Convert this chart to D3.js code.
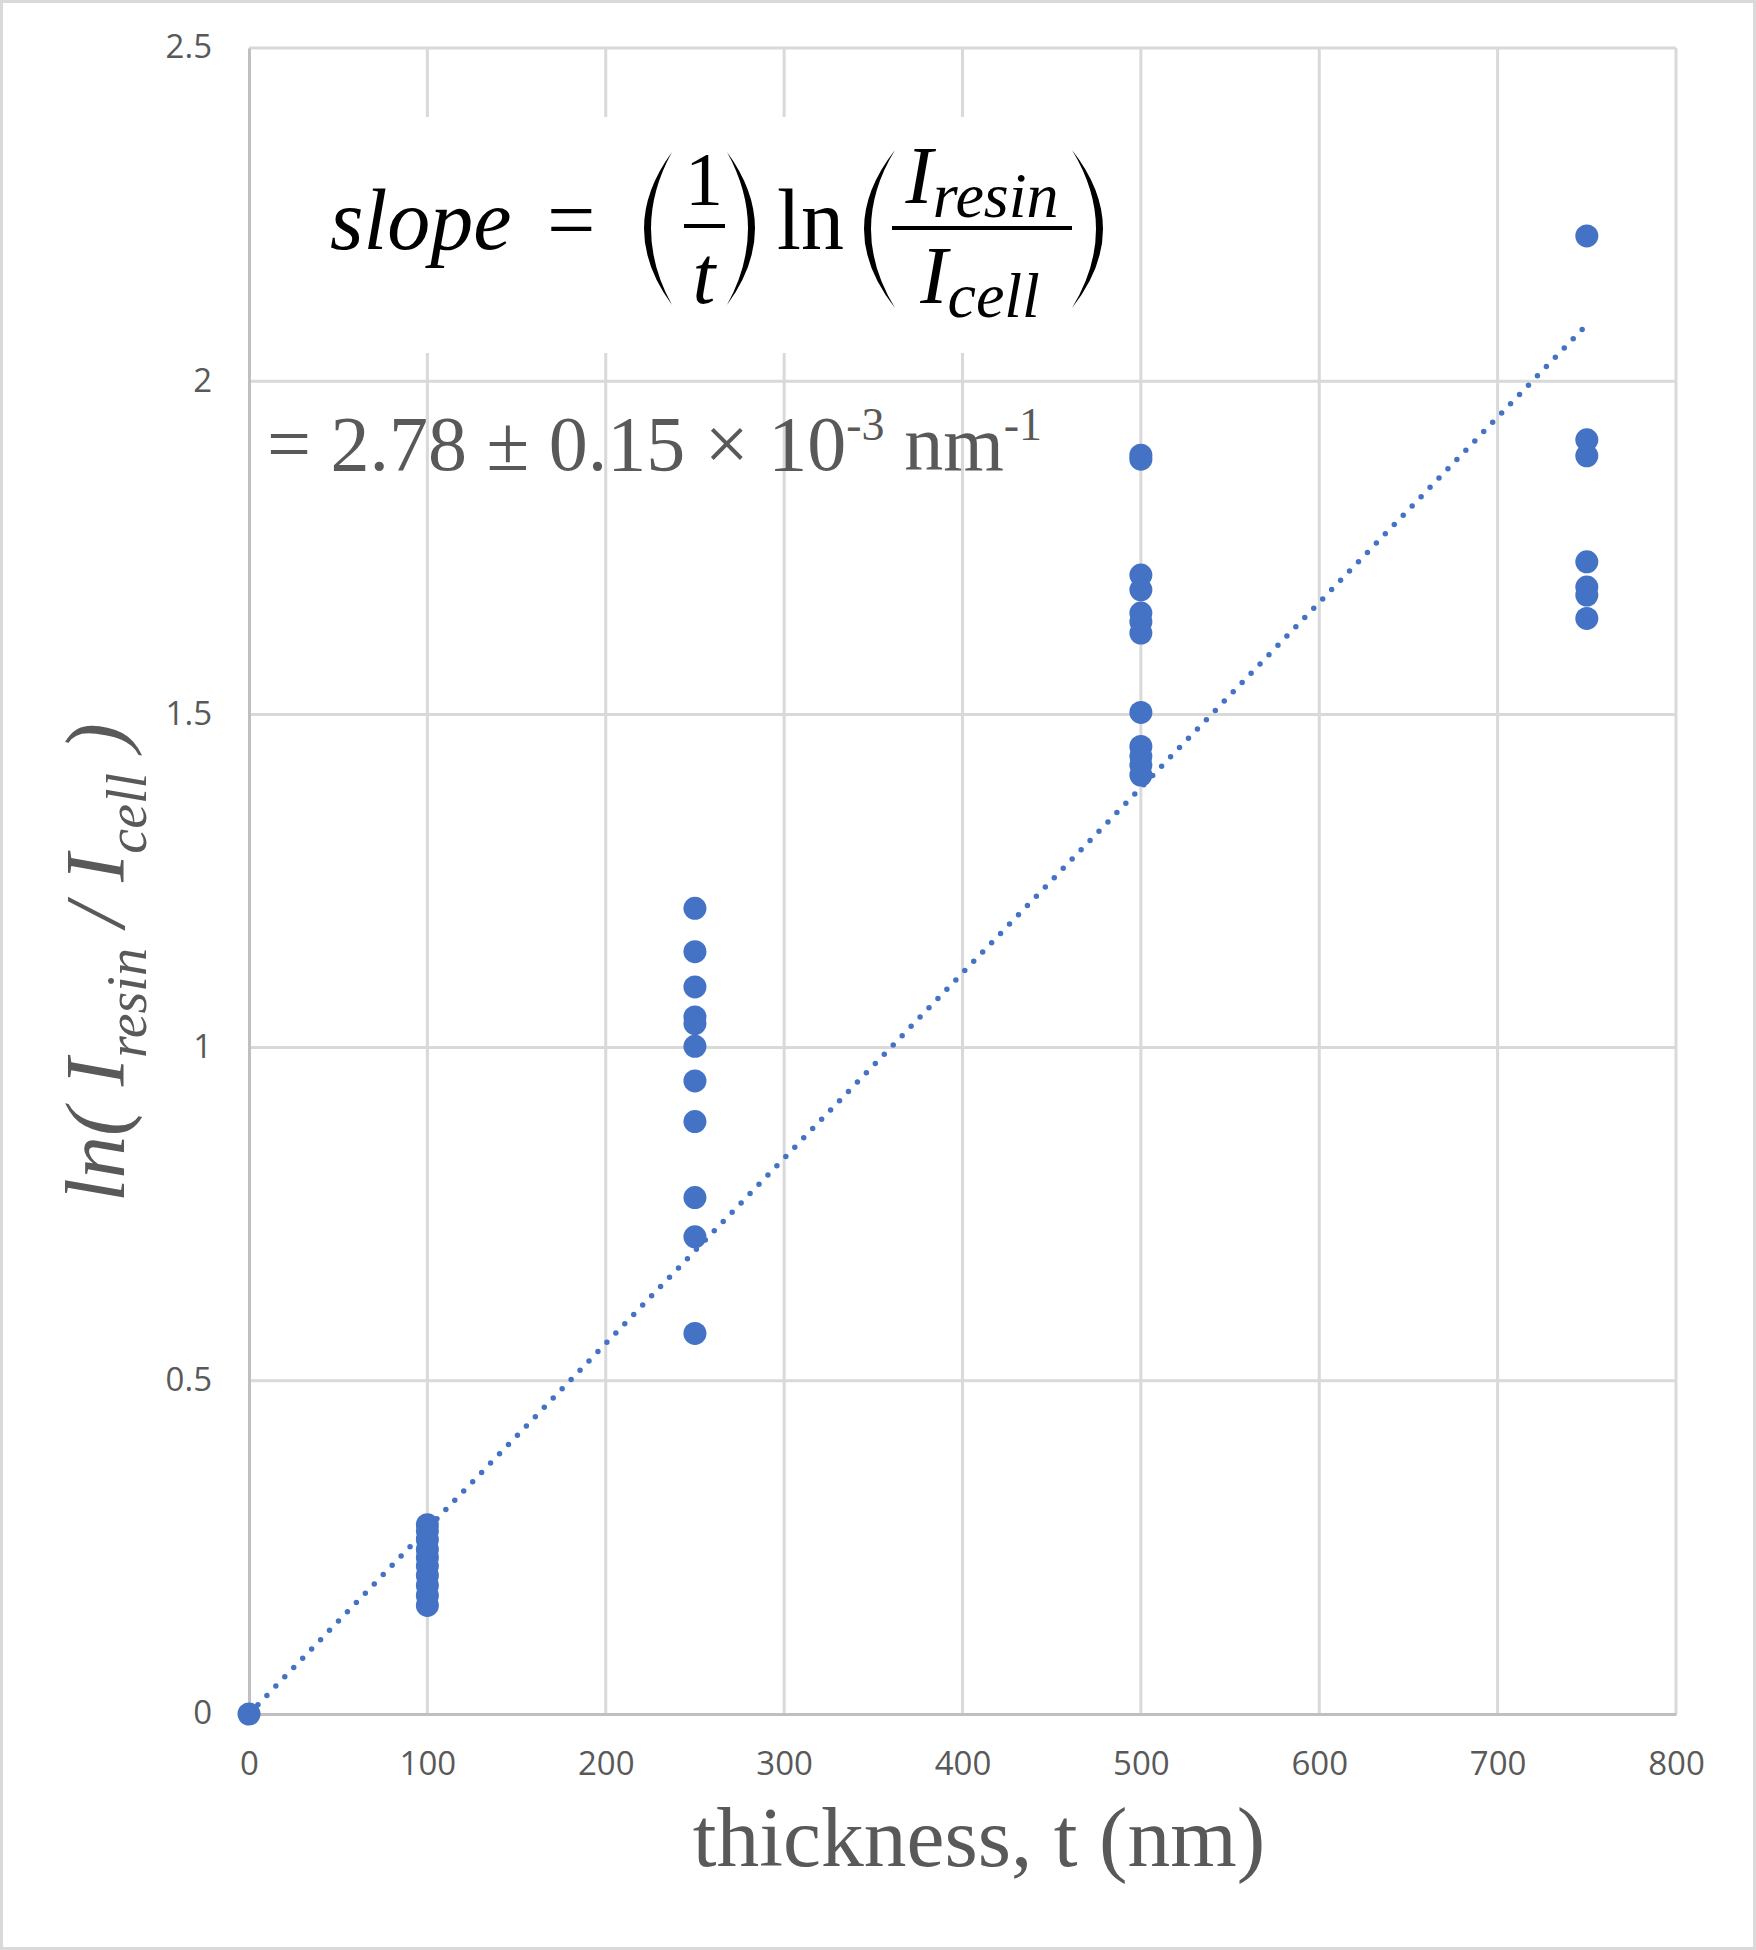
<!DOCTYPE html>
<html><head><meta charset="utf-8">
<script src="https://cdn.jsdelivr.net/npm/d3@7/dist/d3.min.js"></script>
<style>body{margin:0;background:#fff}svg{display:block}</style>
</head><body>
<svg id="chart" width="1756" height="1950"></svg>
<script>
// ---- data ----
const thicknessValues = [0, 100, 250, 500, 750];
const lnRatio0   = [0];
const lnRatio100 = [0.284, 0.275, 0.262, 0.247, 0.235, 0.222, 0.208, 0.193, 0.178, 0.163];
const lnRatio250 = [1.209, 1.144, 1.091, 1.046, 1.036, 1.002, 0.950, 0.889, 0.775, 0.716, 0.571];
const lnRatio500 = [1.889, 1.883, 1.709, 1.687, 1.652, 1.639, 1.622, 1.503, 1.452, 1.437, 1.424, 1.409];
const lnRatio750 = [2.218, 1.912, 1.888, 1.729, 1.691, 1.679, 1.644];
const trendSlope = 0.00278;
const trendRange = [0, 750];
const xTicks = [0, 100, 200, 300, 400, 500, 600, 700, 800];
const yTicks = [0, 0.5, 1, 1.5, 2, 2.5];

const groups = [lnRatio0, lnRatio100, lnRatio250, lnRatio500, lnRatio750];
const points = [];
groups.forEach((arr, i) => arr.forEach(v => points.push({t: thicknessValues[i], v})));

const svg = d3.select('#chart');
const W = 1756, H = 1950;
const x = d3.scaleLinear().domain([0, 800]).range([249, 1676]);
const y = d3.scaleLinear().domain([0, 2.5]).range([1714, 48]);

svg.append('rect').attr('width', W).attr('height', H).attr('fill', '#fff');
svg.append('rect').attr('x', 1.5).attr('y', 1.5).attr('width', W - 3).attr('height', H - 3)
  .attr('fill', 'none').attr('stroke', '#d9d9d9').attr('stroke-width', 3);

// gridlines
const grid = svg.append('g');
grid.selectAll('.gx').data(xTicks.filter(d => d > 0)).join('line')
  .attr('x1', d => x(d)).attr('x2', d => x(d)).attr('y1', y(0)).attr('y2', y(2.5))
  .attr('stroke', '#d9d9d9').attr('stroke-width', 3);
grid.selectAll('.gy').data(yTicks.filter(d => d > 0)).join('line')
  .attr('y1', d => y(d)).attr('y2', d => y(d)).attr('x1', x(0)).attr('x2', x(800))
  .attr('stroke', '#d9d9d9').attr('stroke-width', 3);

// axes
const xAxis = svg.append('g').attr('transform', `translate(0,${y(0)})`)
  .call(d3.axisBottom(x).tickValues(xTicks).tickSize(0).tickPadding(0).tickFormat(d3.format('d')));
xAxis.select('.domain').attr('stroke', '#bfbfbf').attr('stroke-width', 3);
xAxis.selectAll('text').attr('dy', null).attr('y', 61)
  .attr('font-family', 'Open Sans').attr('font-size', 33).attr('fill', '#595959');

const yAxis = svg.append('g').attr('transform', `translate(${x(0)},0)`)
  .call(d3.axisLeft(y).tickValues(yTicks).tickSize(0).tickPadding(0).tickFormat(d => d3.format('')(d)));
yAxis.select('.domain').attr('stroke', '#bfbfbf').attr('stroke-width', 3);
yAxis.selectAll('text').attr('x', -37).attr('dy', '0.3em')
  .attr('font-family', 'Open Sans').attr('font-size', 33).attr('fill', '#595959');

// formula box (opaque, covers gridlines)
const fx = svg.append('g');
fx.append('rect').attr('x', 300).attr('y', 117).attr('width', 820).attr('height', 236).attr('fill', '#fff');

// points
svg.append('g').selectAll('circle').data(points).join('circle')
  .attr('cx', d => x(d.t)).attr('cy', d => y(d.v)).attr('r', 11.5).attr('fill', '#4472c4');

// trendline
const trendData = trendRange.map(t => ({t, v: trendSlope * t}));
svg.append('path').datum(trendData)
  .attr('d', d3.line().x(d => x(d.t)).y(d => y(d.v)))
  .attr('stroke', '#4472c4').attr('stroke-width', 5.5).attr('fill', 'none')
  .attr('stroke-linecap', 'round').attr('stroke-dasharray', '0 12.9');

// formula
const serif = 'Liberation Serif';
function paren(x0, x1, y0, y1, left) {
  const ym = (y0 + y1) / 2, w = 7;
  let d;
  if (left) {
    d = `M${x1},${y0} Q${2 * x0 - x1},${ym} ${x1},${y1} Q${2 * (x0 + w) - x1},${ym} ${x1},${y0} Z`;
  } else {
    d = `M${x0},${y0} Q${2 * x1 - x0},${ym} ${x0},${y1} Q${2 * (x1 - w) - x0},${ym} ${x0},${y0} Z`;
  }
  fx.append('path').attr('d', d).attr('fill', '#000');
}
fx.append('text').attr('x', 330).attr('y', 249).attr('font-family', serif).attr('font-style', 'italic')
  .attr('font-size', 86).attr('fill', '#000').text('slope');
fx.append('text').attr('x', 547).attr('y', 249).attr('font-family', serif)
  .attr('font-size', 86).attr('fill', '#000').text('=');
paren(644, 672, 152, 305, true);
fx.append('text').attr('x', 704).attr('y', 205).attr('text-anchor', 'middle').attr('font-family', serif)
  .attr('font-size', 76).attr('fill', '#000').text('1');
fx.append('rect').attr('x', 684).attr('y', 224).attr('width', 41).attr('height', 4).attr('fill', '#000');
fx.append('text').attr('x', 704).attr('y', 303).attr('text-anchor', 'middle').attr('font-family', serif)
  .attr('font-style', 'italic').attr('font-size', 82).attr('fill', '#000').text('t');
paren(727, 755, 152, 305, false);
fx.append('text').attr('x', 777).attr('y', 249).attr('font-family', serif)
  .attr('font-size', 86).attr('fill', '#000').text('ln');
paren(864, 895, 150, 308, true);
const num = fx.append('text').attr('x', 982).attr('y', 203).attr('text-anchor', 'middle')
  .attr('font-family', serif).attr('font-style', 'italic').attr('font-size', 82).attr('fill', '#000');
num.append('tspan').text('I');
num.append('tspan').attr('font-size', 64).attr('dy', 14).text('resin');
fx.append('rect').attr('x', 892).attr('y', 226).attr('width', 180).attr('height', 4).attr('fill', '#000');
const den = fx.append('text').attr('x', 980).attr('y', 303).attr('text-anchor', 'middle')
  .attr('font-family', serif).attr('font-style', 'italic').attr('font-size', 82).attr('fill', '#000');
den.append('tspan').text('I');
den.append('tspan').attr('font-size', 64).attr('dy', 14).text('cell');
paren(1072, 1103, 150, 308, false);

// slope value text
const sv = svg.append('text').attr('x', 267).attr('y', 470).attr('font-family', serif)
  .attr('font-size', 78).attr('fill', '#595959');
sv.append('tspan').text('= 2.78 ± 0.15 × 10');
sv.append('tspan').attr('font-size', 46).attr('dy', -30).text('-3');
sv.append('tspan').attr('font-size', 78).attr('dy', 30).text(' nm');
sv.append('tspan').attr('font-size', 46).attr('dy', -30).text('-1');

// axis titles
svg.append('text').attr('x', 979).attr('y', 1866).attr('text-anchor', 'middle')
  .attr('font-family', serif).attr('font-size', 85.5).attr('fill', '#595959').text('thickness, t (nm)');
const yt = svg.append('text').attr('transform', 'translate(124,1202) rotate(-90)')
  .attr('font-family', serif).attr('font-style', 'italic').attr('font-size', 85).attr('fill', '#595959');
yt.append('tspan').text('ln( I');
yt.append('tspan').attr('font-size', 56).attr('dy', 22).text('resin');
yt.append('tspan').attr('font-size', 85).attr('dy', -22).text(' / I');
yt.append('tspan').attr('font-size', 56).attr('dy', 22).text('cell');
yt.append('tspan').attr('font-size', 85).attr('dy', -22).text(' )');
</script>
</body></html>
